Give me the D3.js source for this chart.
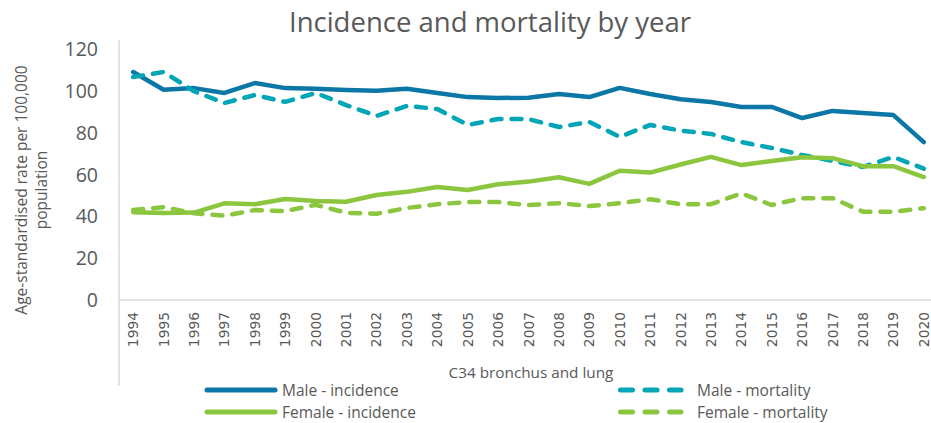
<!DOCTYPE html>
<html>
<head>
<meta charset="utf-8">
<script src="https://cdn.jsdelivr.net/npm/d3@7"></script>
<style>
  body { margin: 0; background: #fff; }
  text { font-family: "Open Sans", "Noto Sans", sans-serif; fill: #595959; }
</style>
</head>
<body>
<div id="app"></div>
<script>
// Data
const years = d3.range(1994, 2021).map(String);
const maleIncidence = [109, 100.5, 101.3, 99, 103.7, 101.3, 101, 100.4, 100, 101, 99, 97, 96.6, 96.7, 98.5, 97, 101.4, 98.5, 96, 94.7, 92.3, 92.3, 87, 90.4, 89.4, 88.4, 75.5];
const maleMortality = [106.6, 109, 99.8, 94.2, 98, 94.7, 99, 93.2, 88, 92.8, 91.3, 83.7, 86.5, 86.5, 82.7, 85.1, 78, 83.7, 81, 79.4, 75.5, 72.7, 69.3, 66.5, 63.6, 68.4, 62.8];
const femaleIncidence = [42, 41.6, 41.8, 46.2, 45.8, 48.3, 47.3, 47, 50.2, 51.7, 54, 52.6, 55.3, 56.6, 58.7, 55.5, 61.8, 60.9, 64.8, 68.4, 64.5, 66.5, 68.2, 67.8, 64, 64, 58.8];
const femaleMortality = [43, 44.4, 41.5, 40.3, 43, 42.5, 45.5, 41.7, 41.2, 44, 45.8, 46.8, 46.8, 45.4, 46.3, 44.9, 46.3, 48.2, 45.8, 45.8, 51, 45.4, 48.7, 48.7, 42.2, 42.2, 43.9];
const yTicks = [0, 20, 40, 60, 80, 100, 120];

const series = [
  { name: "Male - incidence", values: maleIncidence, color: "#0a77a6", dashed: false },
  { name: "Male - mortality", values: maleMortality, color: "#00a6b6", dashed: true },
  { name: "Female - incidence", values: femaleIncidence, color: "#8cc63f", dashed: false },
  { name: "Female - mortality", values: femaleMortality, color: "#8cc63f", dashed: true }
];

const width = 931;
const height = 423;

const svg = d3.select("#app").append("svg")
  .attr("width", width)
  .attr("height", height);

const x = d3.scaleBand().domain(years).range([118, 939]);
const y = d3.scaleLinear().domain([0, 120]).range([300, 49]);
const cx = (d) => x(d) + x.bandwidth() / 2;

// Title
svg.append("text")
  .attr("x", 490).attr("y", 32)
  .attr("text-anchor", "middle")
  .style("font-size", "27.5px")
  .text("Incidence and mortality by year");

// Y axis labels
svg.append("g")
  .selectAll("text")
  .data(yTicks)
  .join("text")
  .attr("x", 98)
  .attr("y", (d) => y(d) + 7)
  .attr("text-anchor", "end")
  .style("font-size", "19.5px")
  .text((d) => d);

// Axis lines
svg.append("line")
  .attr("x1", 119).attr("x2", 119)
  .attr("y1", 40).attr("y2", 386)
  .attr("stroke", "#d9d9d9").attr("stroke-width", 1.5);
svg.append("line")
  .attr("x1", 119).attr("x2", width)
  .attr("y1", y(0)).attr("y2", y(0))
  .attr("stroke", "#d9d9d9").attr("stroke-width", 1.5);

// X tick labels (rotated)
svg.append("g")
  .selectAll("text")
  .data(years)
  .join("text")
  .attr("transform", (d) => `translate(${cx(d) + 5},312) rotate(-90)`)
  .attr("text-anchor", "end")
  .style("font-family", "'DejaVu Sans', sans-serif")
  .style("font-size", "13.8px")
  .text((d) => d);

// Y axis title
const yTitle = svg.append("text")
  .attr("transform", "translate(27,190) rotate(-90)")
  .attr("text-anchor", "middle")
  .style("font-size", "15.5px");
yTitle.append("tspan").attr("x", 0).attr("dy", 0).text("Age-standardised rate per 100,000");
yTitle.append("tspan").attr("x", 0).attr("dy", 20).text("population");

// X axis title
svg.append("text")
  .attr("x", 531).attr("y", 378)
  .attr("text-anchor", "middle")
  .style("font-size", "15.3px")
  .text("C34 bronchus and lung");

// Lines
const line = d3.line()
  .x((d, i) => cx(years[i]))
  .y((d) => y(d));

svg.append("g")
  .selectAll("path")
  .data(series)
  .join("path")
  .attr("d", (d) => line(d.values))
  .attr("fill", "none")
  .attr("stroke", (d) => d.color)
  .attr("stroke-width", 4.5)
  .attr("stroke-linecap", "round")
  .attr("stroke-linejoin", "round")
  .attr("stroke-dasharray", (d) => (d.dashed ? "10,10" : null));

// Legend
const legendPos = [[205, 390], [618, 390], [205, 412], [618, 412]];
const legend = svg.append("g")
  .selectAll("g")
  .data(series)
  .join("g")
  .attr("transform", (d, i) => `translate(${legendPos[i][0]},${legendPos[i][1]})`);

legend.append("line")
  .attr("x1", (d) => (d.dashed ? 2.5 : 2))
  .attr("x2", (d) => (d.dashed ? 63 : 70))
  .attr("stroke", (d) => d.color)
  .attr("stroke-width", 5)
  .attr("stroke-linecap", "round")
  .attr("stroke-dasharray", (d) => (d.dashed ? "12,12.5" : null));

legend.append("text")
  .attr("x", (d) => (d.dashed ? 79 : 77))
  .attr("y", 5.5)
  .style("font-size", "15.5px")
  .text((d) => d.name);
</script>
</body>
</html>
